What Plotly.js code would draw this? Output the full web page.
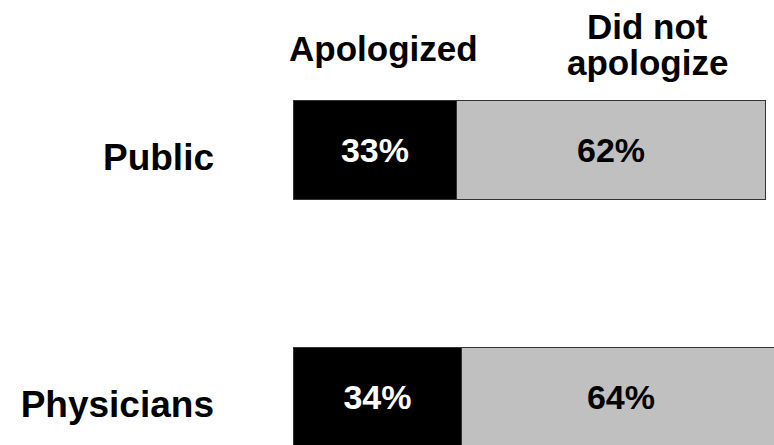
<!DOCTYPE html>
<html><head><meta charset="utf-8">
<script src="https://cdn.plot.ly/plotly-3.0.1.min.js"></script>
<style>html,body{margin:0;padding:0;background:#fff}</style>
</head><body><div id="chart" style="width:774px;height:445px"></div>
<script>
const categories = ["Public", "Physicians"];
const apologized = [33, 34];
const didNotApologize = [62, 64];
const seriesNames = ["Apologized", "Did not apologize"];
const headerLines = ["Apologized", "Did not", "apologize"];

const FONT = "Arial, 'Liberation Sans', sans-serif";
const barLine = {color: '#333333', width: 1};
const barWidth = 0.397;

const traces = [
  {
    type: 'bar', orientation: 'h', y: categories, x: apologized, name: seriesNames[0],
    marker: {color: '#000000', line: barLine}, width: barWidth,
    texttemplate: '%{x}%', textposition: 'inside', insidetextanchor: 'middle',
    insidetextfont: {family: FONT, size: 34, color: '#ffffff', weight: 700},
    hoverinfo: 'none'
  },
  {
    type: 'bar', orientation: 'h', y: categories, x: didNotApologize, name: seriesNames[1],
    marker: {color: '#c0c0c0', line: barLine}, width: barWidth,
    texttemplate: '%{x}%', textposition: 'inside', insidetextanchor: 'middle',
    insidetextfont: {family: FONT, size: 34, color: '#000000', weight: 700},
    hoverinfo: 'none'
  }
];

const H = 445;
const hdrFont = {family: FONT, size: 35, color: '#000000', weight: 700};
const layout = {
  width: 774, height: 445,
  margin: {l: 293, r: 0, t: 0, b: 0, pad: 0},
  paper_bgcolor: '#ffffff', plot_bgcolor: '#ffffff',
  barmode: 'stack', showlegend: false,
  xaxis: {range: [0, 96.8], visible: false, fixedrange: true},
  yaxis: {
    type: 'category', range: [1.1943, -0.6073],
    showgrid: false, zeroline: false, showline: false, ticks: '',
    ticklabelstandoff: 78, ticklabelshift: -7,
    tickfont: {family: FONT, size: 37, color: '#000000', weight: 700},
    fixedrange: true
  },
  annotations: [
    {text: headerLines[0], xref: 'x', x: 18.3, yref: 'paper', y: 1 - 49 / H, yanchor: 'middle', xanchor: 'center', showarrow: false, font: hdrFont},
    {text: headerLines[1], xref: 'x', x: 71.3, yref: 'paper', y: 1 - 27 / H, yanchor: 'middle', xanchor: 'center', showarrow: false, font: hdrFont},
    {text: headerLines[2], xref: 'x', x: 71.3, yref: 'paper', y: 1 - 63 / H, yanchor: 'middle', xanchor: 'center', showarrow: false, font: hdrFont}
  ]
};

Plotly.newPlot('chart', traces, layout, {displayModeBar: false, staticPlot: true});
</script>
</body></html>
